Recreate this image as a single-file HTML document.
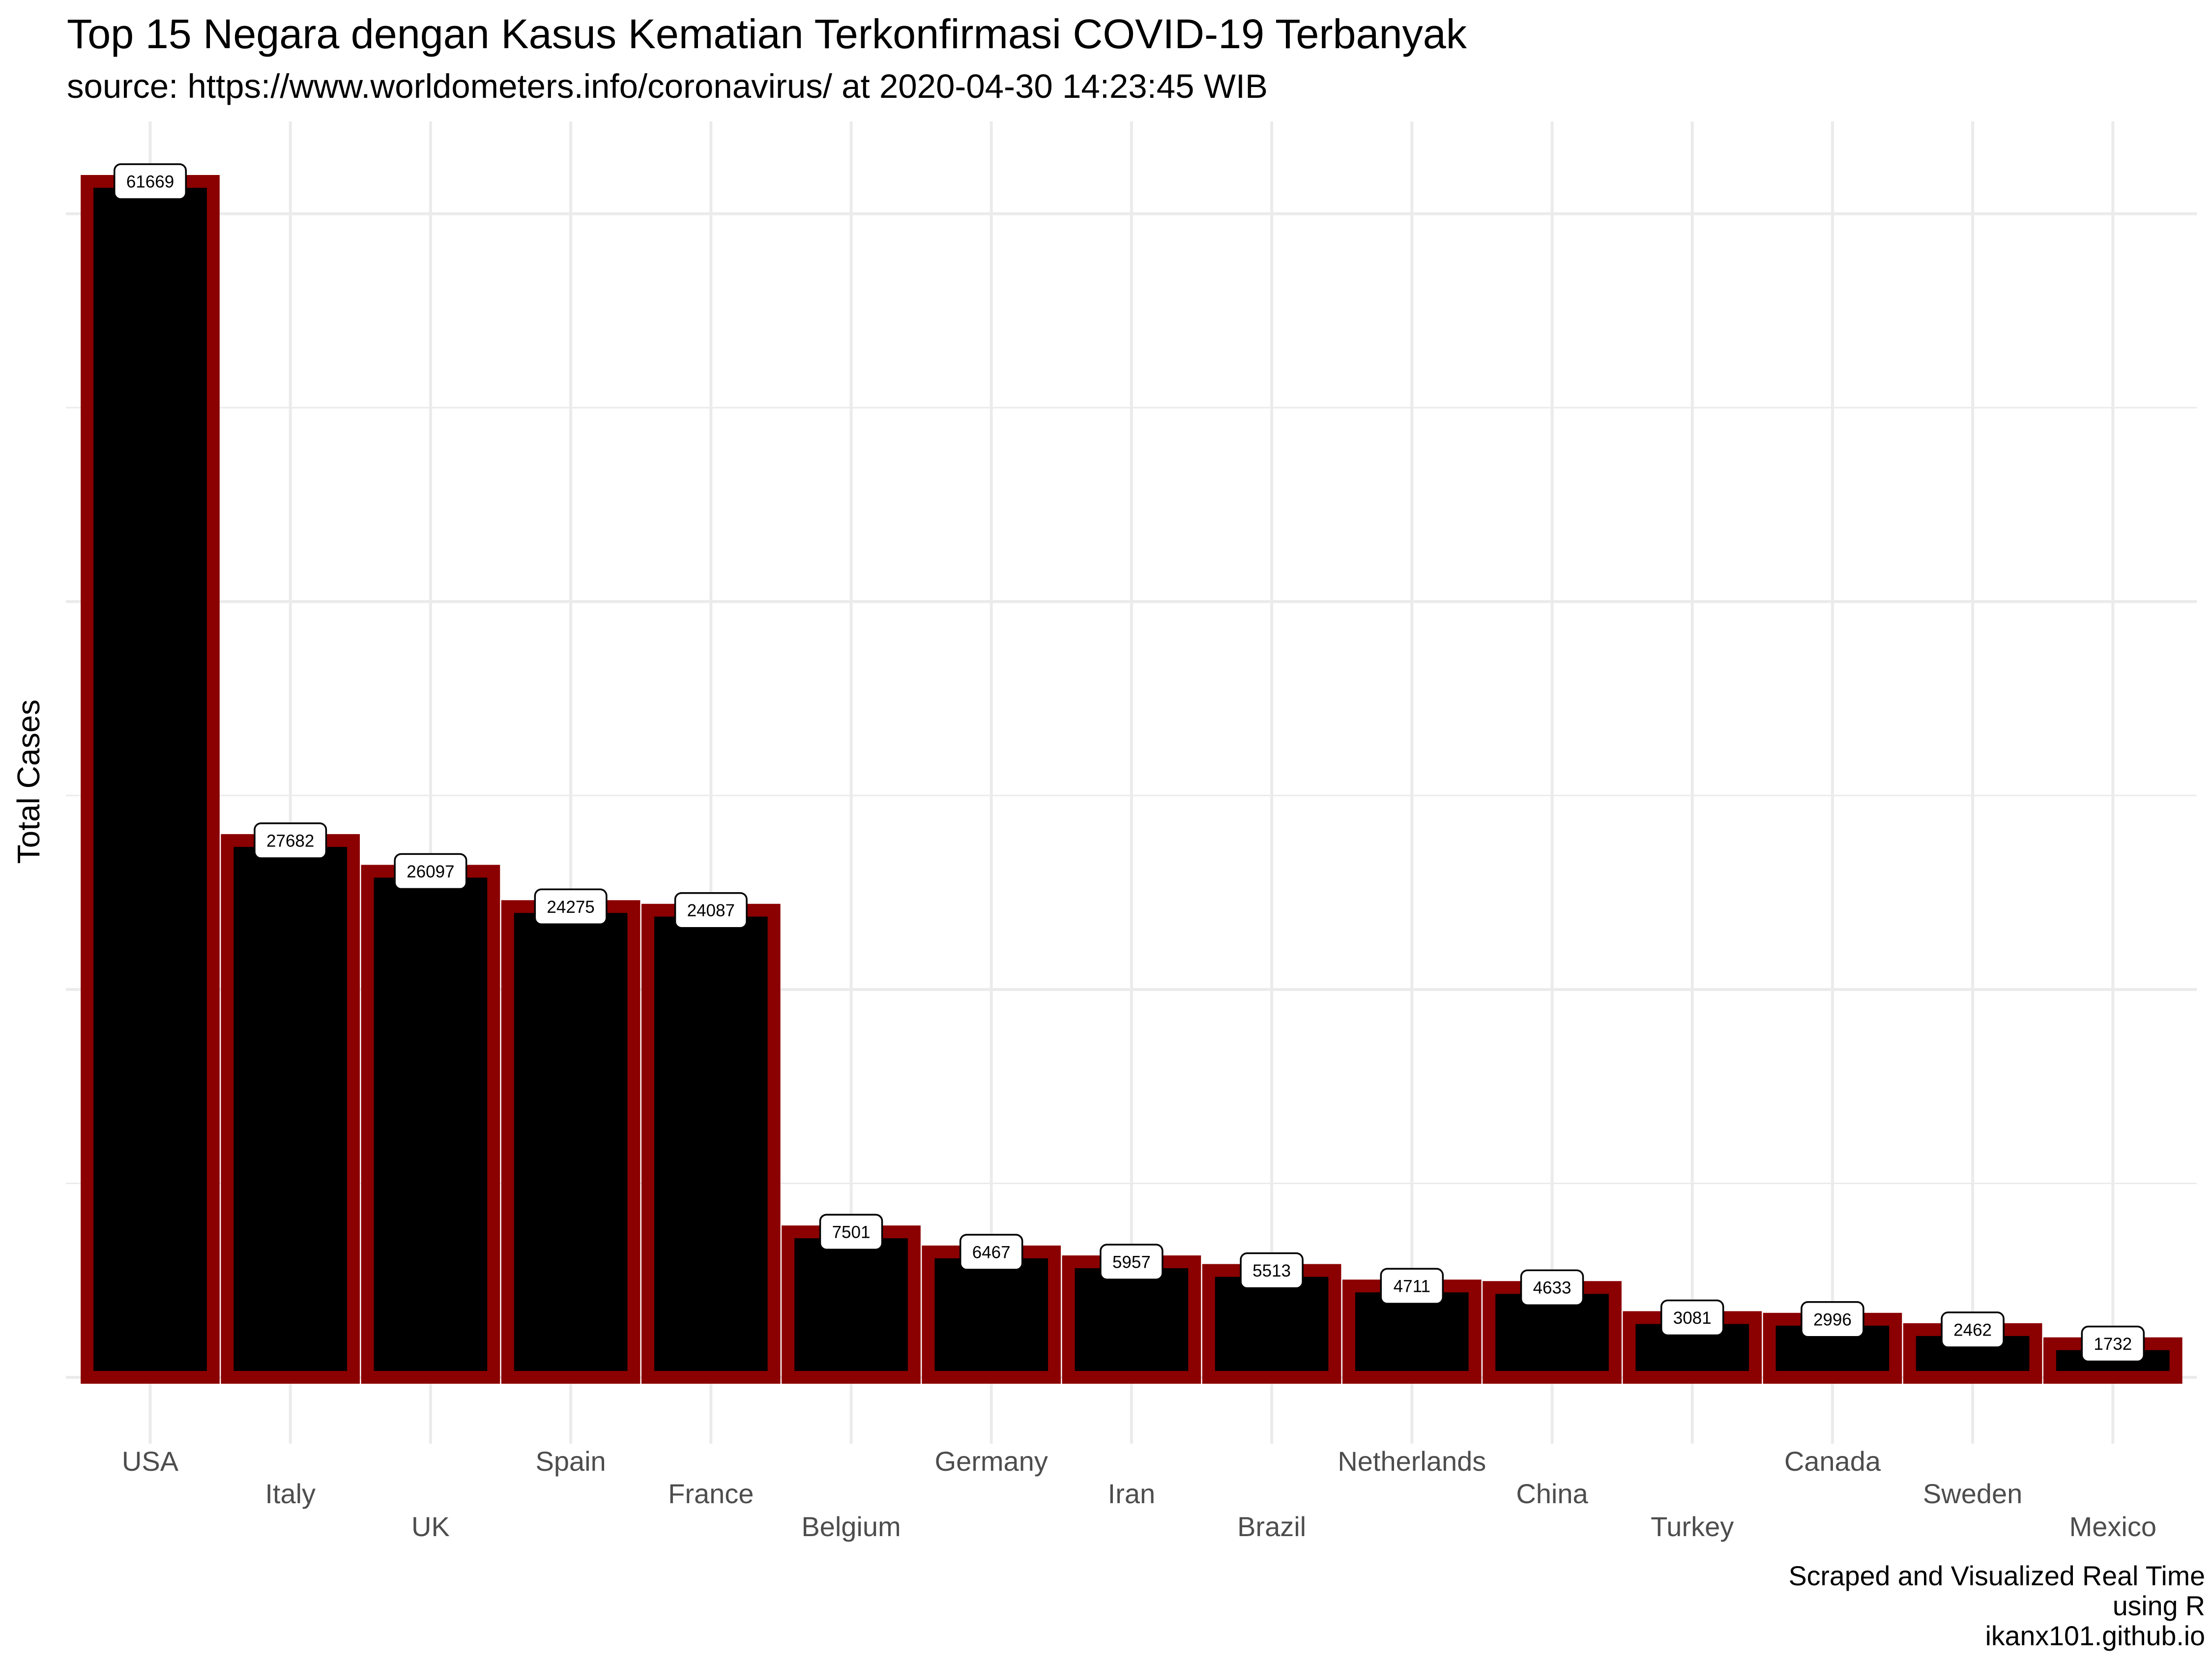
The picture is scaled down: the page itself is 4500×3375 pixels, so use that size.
<!DOCTYPE html>
<html><head><meta charset="utf-8">
<style>
html,body{margin:0;padding:0;background:#fff;}
svg{display:block;font-family:"Liberation Sans",Arial,sans-serif;}
</style></head>
<body>
<svg id="chart" width="4500" height="3375" viewBox="0 0 4500 3375" xmlns="http://www.w3.org/2000/svg">
<rect x="0" y="0" width="4500" height="3375" fill="#fff"/>
<text x="136" y="98" font-size="84.5" fill="#000">Top 15 Negara dengan Kasus Kematian Terkonfirmasi COVID-19 Terbanyak</text>
<text x="136" y="199" font-size="69" fill="#000">source: https://www.worldometers.info/coronavirus/ at 2020-04-30 14:23:45 WIB</text>
<text transform="translate(80,1590) rotate(-90)" text-anchor="middle" font-size="64" fill="#000">Total Cases</text>
<g id="grid"></g>
<g id="bars"></g>
<g id="labels"></g>
<g id="xlabels"></g>
<text x="4486" y="3225" text-anchor="end" font-size="55.5" fill="#000">Scraped and Visualized Real Time</text>
<text x="4486" y="3286" text-anchor="end" font-size="55.5" fill="#000">using R</text>
<text x="4486" y="3347" text-anchor="end" font-size="55.5" fill="#000">ikanx101.github.io</text>
</svg>
<script>
const countries = ["USA","Italy","UK","Spain","France","Belgium","Germany","Iran","Brazil","Netherlands","China","Turkey","Canada","Sweden","Mexico"];
const deaths = [61669,27682,26097,24275,24087,7501,6467,5957,5513,4711,4633,3081,2996,2462,1732];
const majorTicks = [0,20000,40000,60000];
const minorTicks = [10000,30000,50000];

const NS = "http://www.w3.org/2000/svg";
const panelL = 134, panelR = 4469, panelT = 247, panelB = 2937;
const x0 = 305.5, step = 285.2;
const y0 = 2802, yPerUnit = 2433 / 61669;
function xScale(i){ return x0 + i * step; }
function yScale(v){ return y0 - v * yPerUnit; }
function mk(tag, attrs){ const e = document.createElementNS(NS, tag); for (const k in attrs) e.setAttribute(k, attrs[k]); return e; }

const grid = document.getElementById('grid');
minorTicks.forEach(v => {
  const l = mk('line', {x1: panelL, x2: panelR, y1: yScale(v), y2: yScale(v), stroke: '#EBEBEB', 'stroke-width': 3});
  
  
  grid.appendChild(l);
});
majorTicks.forEach(v => {
  const l = mk('line', {x1: panelL, x2: panelR, y1: yScale(v), y2: yScale(v), stroke: '#EBEBEB', 'stroke-width': 6});
  
  
  grid.appendChild(l);
});
countries.forEach((c, i) => {
  const l = mk('line', {x1: xScale(i), x2: xScale(i), y1: panelT, y2: panelB, stroke: '#EBEBEB', 'stroke-width': 6});
  
  
  grid.appendChild(l);
});

const bars = document.getElementById('bars');
const labels = document.getElementById('labels');
const xl = document.getElementById('xlabels');
const bw = step * 0.9;
const rowY = [2992, 3058, 3125];
deaths.forEach((v, i) => {
  const cx = xScale(i), top = yScale(v);
  const r = mk('rect', {x: cx - bw/2, y: top, width: bw, height: y0 - top, fill: '#000', stroke: '#8B0000', 'stroke-width': 26});
  
  
  bars.appendChild(r);

  const g = mk('g', {});
  
  
  const txt = String(v);
  const w = txt.length * 19.5 + 48;
  g.appendChild(mk('rect', {x: cx - w/2, y: top - 35, width: w, height: 71, rx: 13, ry: 13, fill: '#fff', stroke: '#000', 'stroke-width': 3.5}));
  const t = mk('text', {x: cx, y: top + 12.5, 'text-anchor': 'middle', 'font-size': 35, fill: '#000'});
  t.textContent = txt;
  g.appendChild(t);
  labels.appendChild(g);

  const lt = mk('text', {x: cx, y: rowY[i % 3], 'text-anchor': 'middle', 'font-size': 56, fill: '#4D4D4D'});
  
  
  lt.textContent = countries[i];
  xl.appendChild(lt);
});
</script>
</body></html>
